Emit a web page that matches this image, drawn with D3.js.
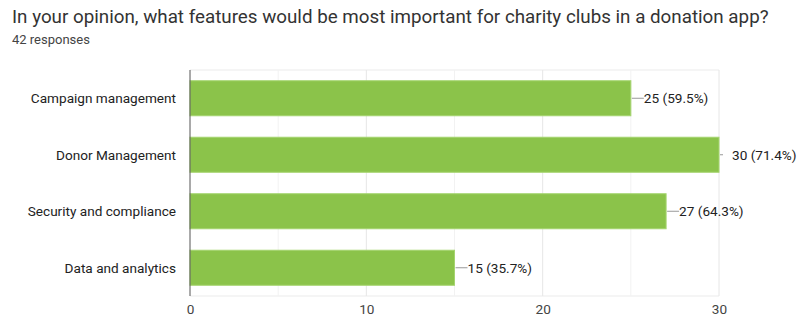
<!DOCTYPE html>
<html>
<head>
<script src="https://d3js.org/d3.v7.min.js"></script>
<style>
	body { margin: 0; background: #fff; }
	text { font-family: Roboto, Arial, sans-serif; }
</style>
</head>
<body>
<div class="chart"></div>
<script>
	var categories = ["Campaign management", "Donor Management", "Security and compliance", "Data and analytics"];
	var counts = [25, 30, 27, 15];
	var percents = ["59.5%", "71.4%", "64.3%", "35.7%"];
	var tickValues = [0, 10, 20, 30];
	var gridValues = [5, 10, 15, 20, 25, 30];

	var w = 797, h = 320;
	var pLeft = 190, pRight = 719, pTop = 70, pBottom = 296;

	var svg = d3.select(".chart").append("svg")
		.attr("width", w)
		.attr("height", h);

	svg.append("text")
		.attr("x", 12).attr("y", 23)
		.attr("font-size", 18.8).attr("fill", "#333")
		.text("In your opinion, what features would be most important for charity clubs in a donation app?");
	svg.append("text")
		.attr("x", 12).attr("y", 44)
		.attr("font-size", 13).attr("fill", "#444")
		.text("42 responses");

	var x = d3.scaleLinear().domain([0, 30]).range([pLeft, pRight]);
	var y = d3.scaleBand().domain(categories).range([pTop, pBottom]).paddingInner(0.38).paddingOuter(0.19);

	// grid
	svg.append("line")
		.attr("x1", pLeft).attr("x2", pRight).attr("y1", pTop).attr("y2", pTop)
		.attr("stroke", "#ebebeb");
	svg.append("line")
		.attr("x1", pLeft).attr("x2", pRight).attr("y1", pBottom).attr("y2", pBottom)
		.attr("stroke", "#ebebeb");
	svg.selectAll(".grid")
		.data(gridValues)
		.enter().append("line")
		.attr("class", "grid")
		.attr("x1", function(d) { return x(d); })
		.attr("x2", function(d) { return x(d); })
		.attr("y1", pTop).attr("y2", pBottom)
		.attr("stroke", function(d) { return d % 10 == 0 ? "#e6e6e6" : "#f2f2f2"; });

	var data = categories.map(function(c, i) { return {cat: c, v: counts[i], p: percents[i]}; });

	svg.selectAll(".bar")
		.data(data)
		.enter().append("rect")
		.attr("class", "bar")
		.attr("x", x(0))
		.attr("y", function(d) { return y(d.cat); })
		.attr("width", function(d) { return x(d.v) - x(0); })
		.attr("height", y.bandwidth())
		.attr("fill", "#8bc34a")
		.attr("stroke", "#a5d46f")
		.attr("stroke-width", 1);

	// leader lines + value labels
	svg.selectAll(".lead")
		.data(data)
		.enter().append("line")
		.attr("class", "lead")
		.attr("x1", function(d) { return x(d.v) + 1; })
		.attr("x2", function(d) { return x(d.v) + (d.v == 30 ? 4 : 13); })
		.attr("y1", function(d) { return y(d.cat) + y.bandwidth() / 2; })
		.attr("y2", function(d) { return y(d.cat) + y.bandwidth() / 2; })
		.attr("stroke", "#999");

	svg.selectAll(".val")
		.data(data)
		.enter().append("text")
		.attr("class", "val")
		.attr("x", function(d) { return x(d.v) + 13; })
		.attr("y", function(d) { return y(d.cat) + y.bandwidth() / 2; })
		.attr("dy", "0.35em")
		.attr("font-size", 13.6).attr("fill", "#222")
		.text(function(d) { return d.v + " (" + d.p + ")"; });

	// category labels
	svg.selectAll(".cat")
		.data(categories)
		.enter().append("text")
		.attr("class", "cat")
		.attr("x", 176)
		.attr("y", function(d) { return y(d) + y.bandwidth() / 2; })
		.attr("dy", "0.35em")
		.attr("text-anchor", "end")
		.attr("font-size", 13.6).attr("fill", "#222")
		.text(function(d) { return d; });

	// x axis labels
	var xAxis = d3.axisBottom(x).tickValues(tickValues).tickSize(0).tickPadding(8);
	var ax = svg.append("g")
		.attr("transform", "translate(0," + pBottom + ")")
		.call(xAxis);
	ax.select(".domain").remove();
	ax.selectAll("text")
		.attr("font-size", 13.6).attr("fill", "#444")
		.style("font-family", "Roboto, Arial, sans-serif");

	// vertical axis line
	svg.append("line")
		.attr("x1", pLeft).attr("x2", pLeft).attr("y1", pTop).attr("y2", pBottom)
		.attr("stroke", "#555");
</script>
</body>
</html>
